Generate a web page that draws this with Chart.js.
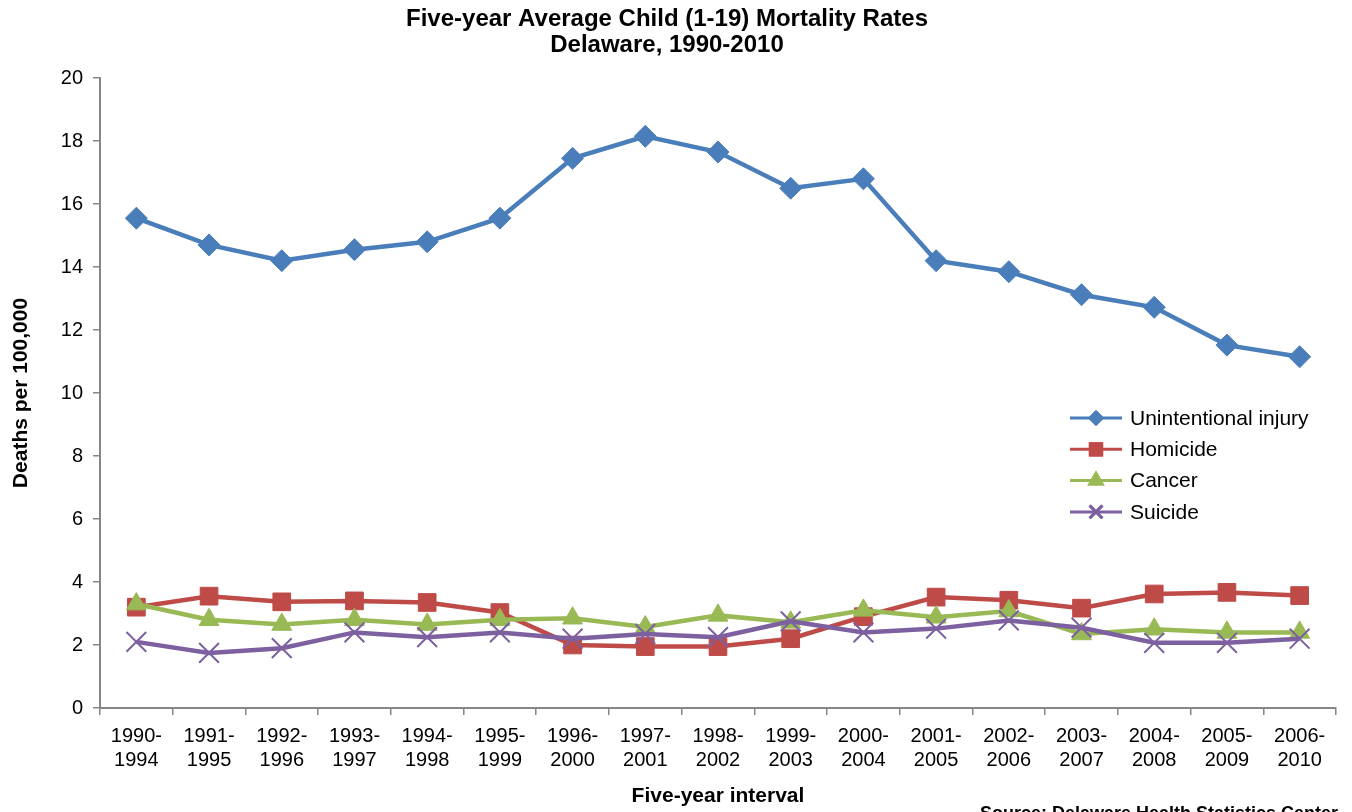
<!DOCTYPE html>
<html>
<head>
<meta charset="utf-8">
<script src="https://cdn.jsdelivr.net/npm/chart.js@4/dist/chart.umd.min.js"></script>
<style>
  html, body { margin: 0; padding: 0; background: #fff; }
  #wrap { width: 1352px; height: 812px; position: relative; }
</style>
</head>
<body>
<div id="wrap"><canvas id="mortalityChart"></canvas></div>
<script>
const categories = ['1990-1994', '1991-1995', '1992-1996', '1993-1997', '1994-1998', '1995-1999',
    '1996-2000', '1997-2001', '1998-2002', '1999-2003', '2000-2004', '2001-2005',
    '2002-2006', '2003-2007', '2004-2008', '2005-2009', '2006-2010'];
const unintentional = [15.55, 14.7, 14.2, 14.55, 14.8, 15.55, 17.45, 18.15, 17.65, 16.5, 16.8, 14.2, 13.85, 13.12, 12.72, 11.52, 11.15];
const homicide = [3.2, 3.55, 3.37, 3.4, 3.35, 3.03, 2.0, 1.95, 1.95, 2.2, 2.9, 3.52, 3.42, 3.17, 3.62, 3.67, 3.57];
const cancer = [3.3, 2.8, 2.65, 2.8, 2.65, 2.8, 2.85, 2.57, 2.94, 2.72, 3.1, 2.88, 3.08, 2.35, 2.5, 2.4, 2.4];
const suicide = [2.1, 1.75, 1.9, 2.4, 2.25, 2.4, 2.2, 2.35, 2.25, 2.75, 2.4, 2.52, 2.78, 2.55, 2.07, 2.07, 2.2];
const yTicks = [0, 2, 4, 6, 8, 10, 12, 14, 16, 18, 20];

const FONT = '"Liberation Sans", Arial, sans-serif';
const AXIS = '#868686';

const series = [
    { label: 'Unintentional injury', data: unintentional, color: '#4A7EBB', style: 'rectRot', radius: 11, legendRadius: 6, order: 4 },
    { label: 'Homicide', data: homicide, color: '#BE4B48', style: 'rect', radius: 12.5, legendRadius: 8, order: 3 },
    { label: 'Cancer', data: cancer, color: '#98B954', style: 'triangle', radius: 11.5, legendRadius: 7, order: 2 },
    { label: 'Suicide', data: suicide, color: '#7D60A0', style: 'crossRot', radius: 14, legendRadius: 9, order: 1 }
];

// titles, legend inside the plot and the source line
const decorations = {
    id: 'decorations',
    afterDraw(chart) {
        const ctx = chart.ctx;
        ctx.save();
        ctx.fillStyle = '#000';
        ctx.textAlign = 'center';
        ctx.textBaseline = 'middle';
        ctx.font = 'bold 24px ' + FONT;
        ctx.fillText('Five-year Average Child (1-19) Mortality Rates', 667, 19);
        ctx.fillText('Delaware, 1990-2010', 667, 45);

        series.forEach((s, i) => {
            const y = 418 + i * 31.3;
            ctx.strokeStyle = s.color;
            ctx.lineWidth = 3;
            ctx.beginPath();
            ctx.moveTo(1070, y);
            ctx.lineTo(1122, y);
            ctx.stroke();
            Chart.helpers.drawPoint(ctx, {
                pointStyle: s.style, radius: s.legendRadius, rotation: 0,
                borderWidth: s.style === 'crossRot' ? 1.5 : 1
            }, 1096, y);
            ctx.fillStyle = s.color;
            ctx.strokeStyle = s.color;
            ctx.fill();
            ctx.stroke();
            ctx.fillStyle = '#000';
            ctx.textAlign = 'left';
            ctx.font = '21px ' + FONT;
            ctx.fillText(s.label, 1130, y + 1);
        });

        ctx.font = 'bold 18px ' + FONT;
        ctx.textAlign = 'left';
        ctx.textBaseline = 'top';
        ctx.fillText('Source: Delaware Health Statistics Center', 980, 805);
        ctx.restore();
    }
};

new Chart(document.getElementById('mortalityChart'), {
    type: 'line',
    data: {
        labels: categories,
        datasets: series.map(s => ({
            label: s.label,
            data: s.data,
            order: s.order,
            borderColor: s.color,
            backgroundColor: s.color,
            borderWidth: 4.5,
            tension: 0,
            pointStyle: s.style,
            pointRadius: s.radius,
            pointHoverRadius: s.radius,
            pointBackgroundColor: s.color,
            pointBorderColor: s.color,
            pointBorderWidth: s.style === 'crossRot' ? 2 : 1
        }))
    },
    options: {
        responsive: true,
        maintainAspectRatio: false,
        animation: false,
        layout: { padding: { top: 78, left: 0, right: 12, bottom: 0 } },
        plugins: {
            legend: { display: false },
            title: { display: false },
            tooltip: { enabled: false }
        },
        scales: {
            x: {
                offset: true,
                afterFit: s => { s.height = 104; },
                grid: { drawOnChartArea: false, drawTicks: true, tickLength: 7, color: AXIS, lineWidth: 1.5, offset: true },
                border: { display: true, color: AXIS, width: 2 },
                ticks: {
                    color: '#000', font: { family: FONT, size: 20 }, padding: 9,
                    maxRotation: 0, autoSkip: false,
                    callback: (v, i) => { const p = categories[i].split('-'); return [p[0] + '-', p[1]]; }
                },
                title: { display: true, text: 'Five-year interval', color: '#000', font: { family: FONT, size: 21, weight: 'bold' }, padding: { top: 0, bottom: 3 } }
            },
            y: {
                min: 0,
                max: 20,
                afterFit: s => { s.width = 100; },
                afterBuildTicks: s => { s.ticks = yTicks.map(v => ({ value: v })); },
                grid: { drawOnChartArea: false, drawTicks: true, tickLength: 7, color: AXIS, lineWidth: 1.5 },
                border: { display: true, color: AXIS, width: 2 },
                ticks: { color: '#000', font: { family: FONT, size: 20 }, padding: 10 },
                title: { display: true, text: 'Deaths per 100,000', color: '#000', font: { family: FONT, size: 21, weight: 'bold' }, padding: { top: 9, bottom: 0 } }
            }
        }
    },
    plugins: [decorations]
});
</script>
</body>
</html>
